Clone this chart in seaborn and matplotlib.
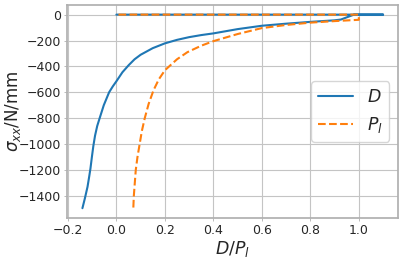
import matplotlib
matplotlib.use("Agg")
import matplotlib.pyplot as plt
import seaborn as sns
import pandas as pd

# Series D (blue): curve, then flat top segment back to 0
d_x = [-0.140, -0.130, -0.119, -0.112, -0.107, -0.101, -0.095, -0.088, -0.079, -0.069, -0.052,
       -0.030, -0.015, 0.0, 0.025, 0.051, 0.075, 0.1, 0.15, 0.2, 0.25, 0.3, 0.35, 0.4,
       0.5, 0.6, 0.7, 0.8, 0.9, 0.926, 0.98, 1.1, 0.0]
d_y = [-1495, -1420, -1330, -1250, -1190, -1100, -1015, -935, -860, -800, -700,
       -600, -555, -515, -445, -390, -345, -310, -259, -222, -195, -174, -158, -145,
       -112, -86, -70, -56, -44, -38, 0, 0, 0]

# Series P_l (orange dashed)
p_x = [0.070, 0.072, 0.076, 0.080, 0.087, 0.096, 0.105, 0.117, 0.133, 0.153, 0.175,
       0.2, 0.25, 0.293, 0.35, 0.4, 0.5, 0.6, 0.7, 0.8, 0.9, 1.0, 1.0, 0.0]
p_y = [-1490, -1400, -1300, -1200, -1100, -1000, -900, -800, -690, -585, -500,
       -430, -345, -290, -240, -205, -150, -104, -80, -62, -50, -40, 0, 0]

y_ticks = [0, -200, -400, -600, -800, -1000, -1200, -1400]
x_ticks = [-0.2, 0.0, 0.2, 0.4, 0.6, 0.8, 1.0]

sns.set_theme(style="whitegrid")
plt.rcParams['font.family'] = ['DejaVu Sans']

fig, ax = plt.subplots(figsize=(4.16, 2.6), dpi=100)
fig.subplots_adjust(left=0.162, right=0.957, top=0.981, bottom=0.162)

df_d = pd.DataFrame({"x": d_x, "y": d_y})
df_p = pd.DataFrame({"x": p_x, "y": p_y})
sns.lineplot(data=df_d, x="x", y="y", sort=False, estimator=None, ax=ax,
             color="#1f77b4", linewidth=1.5, label="$D$")
sns.lineplot(data=df_p, x="x", y="y", sort=False, estimator=None, ax=ax,
             color="#ff7f0e", linewidth=1.5, linestyle="--", label="$P_l$")

ax.set_yticks(y_ticks)
ax.set_xticks(x_ticks)
ax.set_xlabel("$D/P_l$", fontsize=12.5, labelpad=1)
ax.set_ylabel(r"$\sigma_{xx}$/N/mm", fontsize=12)
ax.yaxis.set_label_coords(-0.135, 0.5)
ax.tick_params(labelsize=9, pad=2, length=2.5, width=0.6, color="#b0b0b0",
               left=True, bottom=True)
ax.grid(True, color="#c4c4c4", linewidth=0.8)
for s in ax.spines.values():
    s.set_color("#b0b0b0")
ax.legend(loc="center right", fontsize=12.5)

fig.savefig("out.png", dpi=100)
